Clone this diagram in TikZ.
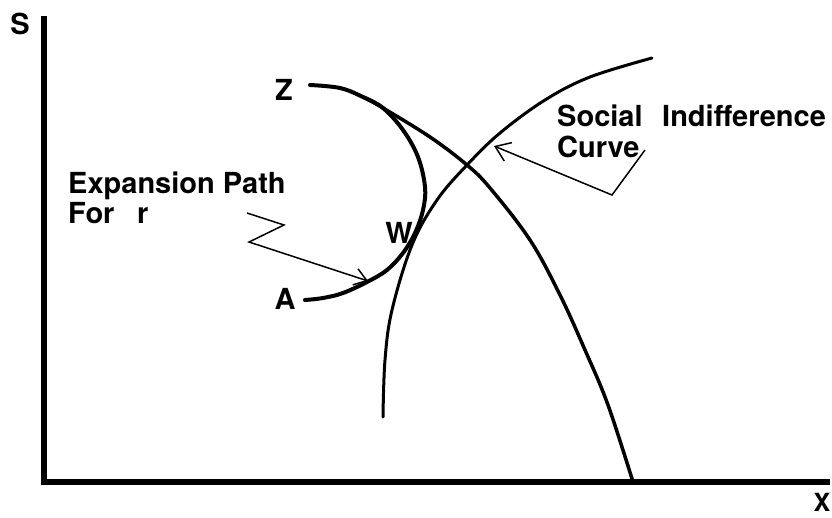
\documentclass[tikz,border=0pt]{standalone}
\usepackage{fontspec}
\setmainfont{TeX Gyre Heros}
\usetikzlibrary{arrows.meta}
\begin{document}
\begin{tikzpicture}[x=1pt,y=-1pt,
  lab/.style={font=\fontsize{29}{32}\selectfont\bfseries, inner sep=0pt},
  axisline/.style={line width=6pt, line join=miter},
  curveline/.style={line width=3.5pt, line cap=round},
  pointer/.style={line width=1.5pt, line join=miter, -{Straight Barb[length=12pt,width=17pt,line width=1.5pt]}}]
\useasboundingbox (0,0) rectangle (832,517);
% axes
\coordinate (ytop) at (44,16);
\coordinate (origin) at (44,482);
\coordinate (xend) at (830,482);
\draw[axisline] (ytop) -- (origin) -- (xend);
\node[lab] (S) at (20,24) {S};
\node[lab, font=\fontsize{25}{28}\selectfont\bfseries] (X) at (822,502) {X};
% expansion path Z-W-A
\draw[curveline, line width=4pt] plot[smooth, tension=0.6] coordinates {
  (310,85) (340,88) (363,97) (383,108) (403,130) (418,157) (425,187)
  (423,210) (415,233) (403,253) (387,270) (367,282) (343,293) (323,298) (305,300)};
% production frontier
\draw[curveline] plot[smooth, tension=0.6] coordinates {
  (363,97) (383,108) (430,137) (467,165) (490,188) (530,240) (560,295)
  (585,350) (608,405) (633,482)};
% social indifference curve
\draw[curveline, line width=3pt] plot[smooth, tension=0.6] coordinates {
  (383,417) (385,360) (392,310) (412,245) (437,200) (467,165) (500,133)
  (545,100) (590,77) (652,58)};
% point labels
\node[lab] (Z) at (284,90) {Z};
\node[lab] (A) at (285,299) {A};
\node[lab] (W) at (399,233) {W};
% text labels
\node[lab, anchor=base west] (ep1) at (68,193) {Expansion Path};
\node[lab, anchor=base west] (ep2) at (68,223) {For};
\node[lab, anchor=base west] (ep3) at (137,223) {r};
\node[lab, anchor=base west] (sic1) at (557,126) {Social};
\node[lab, anchor=base west] (sic2) at (662,126) {Indifference};
\node[lab, anchor=base west] (sic3) at (557,157) {Curve};
% pointers
\coordinate (e1) at (247,213);
\coordinate (e2) at (284,225);
\coordinate (e3) at (249,242);
\coordinate (etip) at (368,281);
\draw[pointer] (e1) -- (e2) -- (e3) -- (etip);
\coordinate (s1) at (645,150);
\coordinate (s2) at (612,195);
\coordinate (stip) at (494,146);
\draw[pointer, -{Straight Barb[length=14pt,width=20pt,line width=1.5pt]}] (s1) -- (s2) -- (stip);
\end{tikzpicture}
\end{document}
